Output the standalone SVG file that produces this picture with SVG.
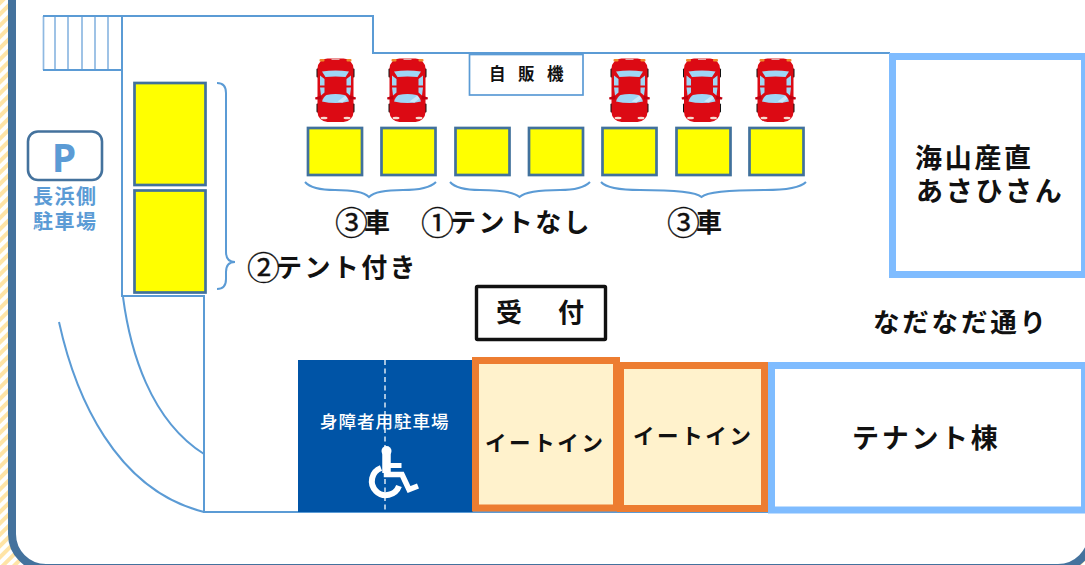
<svg xmlns="http://www.w3.org/2000/svg" width="1085" height="565" viewBox="0 0 1085 565">
<style>
text{font-family:"Noto Sans CJK JP","Noto Sans",sans-serif;font-weight:700;fill:#111}
.ln{fill:none;stroke:#5b9bd5;stroke-width:2}
.st{fill:none;stroke:#8fb9e2;stroke-width:1.7}
.ye{fill:#ff0;stroke:#41719c;stroke-width:2.7}
.bld{fill:#fff;stroke:#7fbcff;stroke-width:7}
.eat{fill:#fff2cc;stroke:#ed7d31;stroke-width:7}
.big{font-size:26px;letter-spacing:2.4px}
.num{font-weight:400;font-size:33px;letter-spacing:-4px;stroke:#111;stroke-width:.3px}
.eatt{font-size:21.5px;letter-spacing:2.6px}
.blue{fill:#5b9bd5;font-size:20px;letter-spacing:1.5px}
</style>
<defs>
<pattern id="hatch" width="8" height="8" patternUnits="userSpaceOnUse" patternTransform="rotate(45)">
<rect width="8" height="8" fill="#fff"/><rect width="4" height="8" fill="#ffe4a6"/>
</pattern>
<g id="car">
<rect x="-19" y="10" width="38" height="9" rx="1" fill="#111"/>
<rect x="-19" y="45" width="38" height="9" rx="1" fill="#111"/>
<rect x="-18" y="0" width="36" height="63.5" rx="10" fill="#dc0a14"/>
<path d="M-20.5 39L-14 37L-14 41L-20 41ZM20.5 39L14 37L14 41L20 41Z" fill="#c00010"/>
<path d="M-13.5 13Q0 11 13.500 13L10 18.500Q0 17.500 -10 18.500Z" fill="#9fd6f5"/>
<path d="M-15.500 17L-11 20.500V27L-15.500 27ZM15.500 17L11 20.500V27L15.500 27ZM-15.500 29L-11 29V34L-14.500 37ZM15.500 29L11 29V34L14.500 37Z" fill="#9fd6f5"/>
<path d="M-13.500 43Q-12 38 -9 36.500Q0 34.500 9 36.500Q12 38 13.500 43Q0 46 -13.500 43Z" fill="#9fd6f5"/>
<path d="M2 43L10 37L12 40L7 44Z" fill="#c9e9fa"/>
<rect x="-16" y="0.500" width="5" height="2.500" rx="1" fill="#ef8a2a"/>
<rect x="11" y="0.500" width="5" height="2.500" rx="1" fill="#ef8a2a"/>
<rect x="-4" y="0" width="8" height="1.500" fill="#e8a0a0"/>
<ellipse cx="-11.500" cy="59.500" rx="3.500" ry="1.300" fill="#f6dcd0"/>
<ellipse cx="11.500" cy="59.500" rx="3.500" ry="1.300" fill="#f6dcd0"/>
</g>
</defs>
<g id="frame">
<rect width="1085" height="565" fill="url(#hatch)"/>
<rect x="12" y="-100" width="1080" height="668" rx="34" fill="#fff" stroke="#44729d" stroke-width="8"/>
</g>
<g id="connectors">
<path class="st" d="M55 16V70M68 16V70M82 16V70M95 16V70M108 16V70M43.500 16V70"/>
<path class="ln" d="M43 16H373V53H890M43 70H122M122 16V296H204V512H1085"/>
<path class="ln" d="M123 297C130 350 150 420 204 454"/>
<path class="ln" d="M59 322C75 395 115 490 204 512"/>
<path class="ln" d="M217 83Q226 83 226 93V252Q226 262 235 262Q226 262 226 272V279Q226 289 217 289"/>
<path class="ln" d="M305 182Q312 190 335 190Q362 190 369 197Q376 190 403 190Q428 190 436 182"/>
<path class="ln" d="M450 182Q457 190 480 190Q512 190 519.500 197Q527 190 560 190Q582 190 590 182"/>
<path class="ln" d="M601 182Q608 190 640 190Q694 190 701.500 197Q709 190 765 190Q798 190 806 182"/>
</g>
<g id="parking-sign">
<rect x="28" y="131.500" width="74" height="48.500" rx="10" fill="#fff" stroke="#44729d" stroke-width="2.600"/>
<text x="64" y="172" text-anchor="middle" style="fill:#5b9bd5;font-size:39px;font-family:'Open Sans',sans-serif">P</text>
<text class="blue"><tspan x="33" y="204">長浜側</tspan><tspan x="33" y="229">駐車場</tspan></text>
</g>
<g id="tent-spaces">
<rect class="ye" x="134.500" y="83" width="71" height="102"/>
<rect class="ye" x="134.500" y="190.500" width="71" height="102"/>
<rect class="ye" x="308" y="128" width="54" height="47"/>
<rect class="ye" x="381.500" y="128" width="54" height="47"/>
<rect class="ye" x="455.500" y="128" width="54" height="47"/>
<rect class="ye" x="529" y="128" width="54" height="47"/>
<rect class="ye" x="602.500" y="128" width="54" height="47"/>
<rect class="ye" x="676.500" y="128" width="54" height="47"/>
<rect class="ye" x="749.500" y="128" width="54" height="47"/>
</g>
<g id="cars">
<use href="#car" x="335.500" y="58.500"/>
<use href="#car" x="407.500" y="58.500"/>
<use href="#car" x="629.500" y="58.500"/>
<use href="#car" x="702" y="58.500"/>
<use href="#car" x="775.500" y="58.500"/>
</g>
<g id="vending">
<rect x="469.500" y="54.500" width="113.500" height="40.500" fill="#fff" stroke="#5b9bd5" stroke-width="1.700"/>
<text x="489" y="80" style="font-size:16.500px;letter-spacing:12.500px">自販機</text>
</g>
<g id="labels">
<text class="big" x="335" y="232"><tspan class="num" dy="3">③</tspan><tspan dy="-3">車</tspan></text>
<text class="big" x="421" y="232"><tspan class="num" dy="3">①</tspan><tspan dy="-3">テントなし</tspan></text>
<text class="big" x="667" y="232"><tspan class="num" dy="3">③</tspan><tspan dy="-3">車</tspan></text>
<text class="big" x="247" y="277"><tspan class="num" dy="3">②</tspan><tspan dy="-3">テント付き</tspan></text>
<text x="873" y="332" style="font-size:26.500px;letter-spacing:2.800px">なだなだ通り</text>
</g>
<g id="reception">
<rect x="476.500" y="286.500" width="129" height="53" rx="1" fill="#fff" stroke="#111" stroke-width="3.400"/>
<text x="496" y="322" style="font-size:26px;letter-spacing:5px">受　付</text>
</g>
<g id="accessible-parking">
<rect x="298" y="360" width="175" height="152" fill="#0054a6"/>
<line x1="385" y1="360" x2="385" y2="510" stroke="#dce8f4" stroke-width="1.500" stroke-dasharray="5 3.500"/>
<text x="320" y="428" style="fill:#fff;font-size:17.500px;letter-spacing:1px;font-weight:500">身障者用駐車場</text>
<g fill="none" stroke="#fff">
<path d="M381 468A14 14 0 1 0 399 486" stroke-width="6"/>
<path d="M386.500 453V474.500H402L409 489.500L418 486" stroke-width="5.500"/>
<path d="M386.500 453V473" stroke-width="8.500"/>
<path d="M386.500 465.500H401.500" stroke-width="5"/>
</g>
<circle cx="386.500" cy="451" r="5" fill="#fff"/>
</g>
<g id="eat-in-1">
<rect class="eat" x="475.500" y="360.500" width="141" height="147.500"/>
<text class="eatt" x="485" y="451">イートイン</text>
</g>
<g id="eat-in-2">
<rect class="eat" x="620.500" y="365.500" width="144" height="143"/>
<text class="eatt" x="633" y="444">イートイン</text>
</g>
<g id="tenant">
<rect class="bld" x="771.500" y="365.500" width="313" height="144.500"/>
<text x="852" y="448" style="font-size:27px;letter-spacing:2.700px">テナント棟</text>
</g>
<g id="asahi">
<rect class="bld" x="892.500" y="56.500" width="192" height="218"/>
<text style="font-size:27px;letter-spacing:2.700px"><tspan x="915" y="168">海山産直</tspan><tspan x="916" y="201">あさひさん</tspan></text>
</g>
</svg>
